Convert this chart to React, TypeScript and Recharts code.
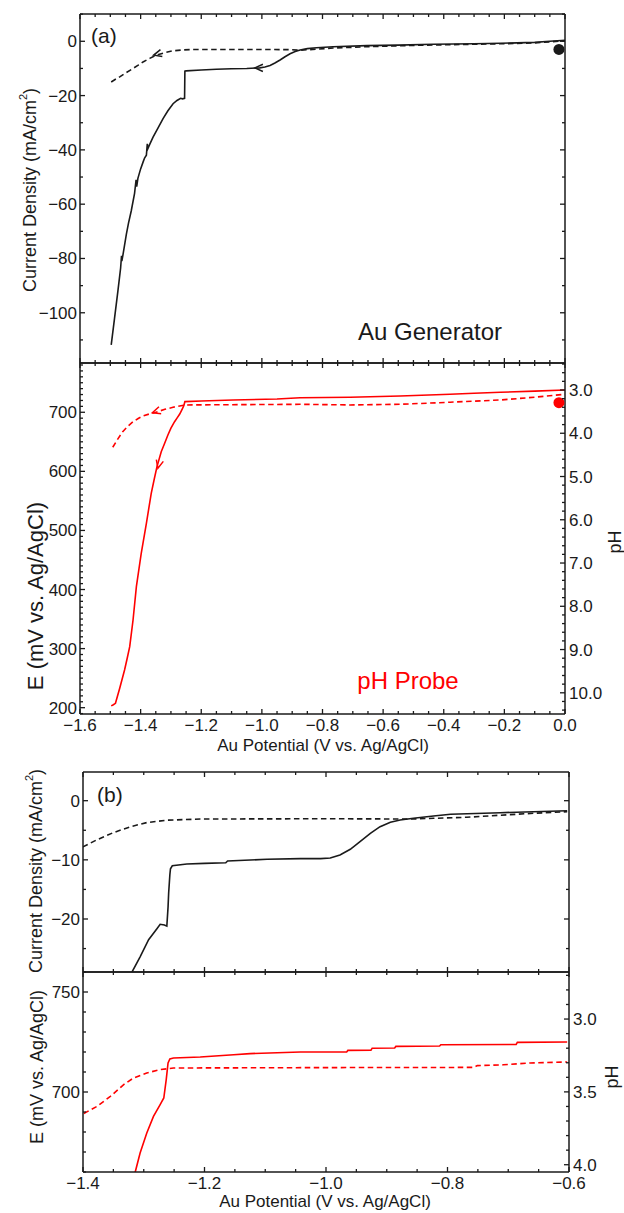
import React from 'react';
import { ComposedChart, Line, Scatter, XAxis, YAxis } from 'recharts';

const FONT = '"Liberation Sans", Arial, Helvetica, sans-serif';
const INK = '#1a1a1a';
const RED = '#ff0000';
const AXIS_LINE = { stroke: INK, strokeWidth: 1.5 };

// ---------------- data (V vs. Ag/AgCl, value) ----------------
// (a) Au generator current density, mA/cm2
const genForwardA: [number, number][] = [
  [0, 0.4], [-0.05, 0.0], [-0.1, -0.4], [-0.213, -0.75], [-0.3, -0.9], [-0.435, -1.1], [-0.55, -1.4],
  [-0.654, -1.6], [-0.765, -2.0], [-0.82, -2.4], [-0.85, -2.7], [-0.874, -3.2], [-0.89, -3.8],
  [-0.907, -4.6], [-0.925, -5.8], [-0.94, -6.9], [-0.957, -8.0], [-0.973, -8.9], [-0.99, -9.5],
  [-1.007, -9.8], [-1.05, -10.0], [-1.1, -10.1], [-1.15, -10.3], [-1.2, -10.6], [-1.25, -10.9],
  [-1.254, -11.0], [-1.255, -21.0], [-1.262, -21.2], [-1.268, -21.0], [-1.28, -21.8], [-1.293, -23.0],
  [-1.31, -25.6], [-1.326, -28.5], [-1.342, -31.8], [-1.359, -35.3], [-1.37, -38.0], [-1.376, -39.5],
  [-1.378, -37.8], [-1.381, -42.0], [-1.387, -43.0], [-1.392, -44.5], [-1.4, -47.0], [-1.409, -50.5],
  [-1.413, -53.5], [-1.415, -51.0], [-1.42, -56.0], [-1.431, -62.5], [-1.44, -67.0], [-1.447, -71.0],
  [-1.458, -78.5], [-1.462, -81.0], [-1.463, -79.0], [-1.466, -83.5], [-1.475, -92.0], [-1.486, -102.0],
  [-1.497, -111.8],
];
const genReverseA: [number, number][] = [
  [-1.497, -15.0], [-1.483, -14.0], [-1.469, -13.1], [-1.447, -11.5], [-1.425, -10.0], [-1.408, -8.8],
  [-1.392, -7.6], [-1.37, -6.3], [-1.348, -5.1], [-1.32, -4.2], [-1.293, -3.5], [-1.26, -3.2],
  [-1.227, -3.0], [-1.1, -3.0], [-1.0, -3.0], [-0.9, -3.1], [-0.874, -3.3], [-0.82, -2.9],
  [-0.765, -2.5], [-0.654, -2.0], [-0.5, -1.5], [-0.3, -1.1], [-0.2, -0.9], [-0.1, -0.6], [0, 0.2],
];
const genRestA: [number, number][] = [[-0.02, -3.0]];
const genArrowsA: [number, number, number][] = [[-1.023, -9.8, 180], [-1.357, -5.1, 165]];

// (a) pH probe potential, mV
const probeForwardA: [number, number][] = [
  [0, 737.7], [-0.1, 735.8], [-0.213, 733.9], [-0.3, 732.3], [-0.379, 730.5], [-0.544, 727.6],
  [-0.709, 725.4], [-0.874, 724.7], [-0.95, 722.5], [-1.095, 720.8], [-1.2, 719.0], [-1.254, 718.0],
  [-1.257, 712.0], [-1.262, 706.0], [-1.271, 697.0], [-1.28, 690.0], [-1.288, 684.0], [-1.3, 673.0],
  [-1.31, 661.6], [-1.322, 646.0], [-1.332, 633.3], [-1.346, 608.0], [-1.355, 587.0], [-1.365, 562.9],
  [-1.381, 512.0], [-1.398, 461.3], [-1.414, 404.8], [-1.425, 348.4], [-1.436, 303.3], [-1.445, 282.0],
  [-1.453, 263.8], [-1.469, 232.8], [-1.483, 207.4], [-1.49, 205.0], [-1.497, 203.0],
];
const probeReverseA: [number, number][] = [
  [-1.492, 640.8], [-1.475, 655.0], [-1.459, 667.2], [-1.442, 676.5], [-1.425, 684.0], [-1.408, 689.5],
  [-1.392, 693.7], [-1.372, 697.0], [-1.354, 699.3], [-1.32, 705.0], [-1.293, 708.5], [-1.254, 712.4],
  [-1.1, 712.8], [-0.874, 713.5], [-0.709, 712.4], [-0.544, 713.5], [-0.379, 717.0], [-0.213, 720.8],
  [-0.1, 725.5], [0, 730.5],
];
const probeRestA: [number, number][] = [[-0.02, 716.3]];
const probeArrowsA: [number, number, number][] = [[-1.361, 699.3, 162], [-1.343, 605.2, 104]];

// (b) zoom: generator current density
const genForwardB: [number, number][] = [
  [-1.325, -30.5], [-1.319, -28.9], [-1.306, -26.4], [-1.292, -23.5], [-1.278, -21.6], [-1.273, -20.9],
  [-1.266, -21.0], [-1.262, -21.2], [-1.26, -18.0], [-1.259, -15.6], [-1.257, -12.5], [-1.256, -11.5],
  [-1.253, -11.0], [-1.229, -10.7], [-1.2, -10.6], [-1.165, -10.5], [-1.162, -10.2], [-1.097, -9.9],
  [-1.042, -9.8], [-1.009, -9.8], [-0.993, -9.68], [-0.977, -9.17], [-0.96, -8.21], [-0.944, -6.92],
  [-0.927, -5.51], [-0.911, -4.39], [-0.894, -3.65], [-0.878, -3.26], [-0.856, -2.98], [-0.823, -2.58],
  [-0.795, -2.3], [-0.713, -2.03], [-0.603, -1.69],
];
const genReverseB: [number, number][] = [
  [-1.425, -9.5], [-1.4, -7.8], [-1.377, -6.6], [-1.35, -5.4], [-1.322, -4.4], [-1.295, -3.7],
  [-1.262, -3.3], [-1.207, -3.1], [-1.0, -3.05], [-0.861, -3.1], [-0.823, -2.98], [-0.768, -2.8],
  [-0.713, -2.46], [-0.658, -2.12], [-0.603, -1.86],
];

// (b) zoom: pH probe potential
const probeForwardB: [number, number][] = [
  [-1.318, 652], [-1.314, 660], [-1.306, 669.5], [-1.295, 679.5], [-1.284, 687.8], [-1.273, 693.7],
  [-1.267, 697], [-1.263, 706.2], [-1.26, 714.5], [-1.257, 716.5], [-1.251, 717], [-1.207, 717.5],
  [-1.152, 718.6], [-1.125, 719.2], [-1.042, 720.0], [-0.966, 720.0], [-0.964, 720.8], [-0.926, 720.9],
  [-0.924, 721.9], [-0.887, 722.0], [-0.885, 722.8], [-0.813, 723.0], [-0.811, 723.6], [-0.687, 723.8],
  [-0.685, 724.8], [-0.603, 725.0],
];
const probeReverseB: [number, number][] = [
  [-1.42, 683], [-1.399, 689.2], [-1.377, 692.8], [-1.355, 697.8], [-1.333, 703.7], [-1.317, 707],
  [-1.295, 709.5], [-1.273, 711.2], [-1.251, 712], [-1.0, 712.2], [-0.757, 712.3], [-0.751, 713.2],
  [-0.708, 713.6], [-0.664, 714.5], [-0.603, 715],
];

// ---------------- ticks ----------------
const range = (a: number, b: number, step: number) => {
  const n = Math.round((b - a) / step);
  const out: number[] = [];
  for (let i = 0; i <= n; i++) out.push(Math.round((a + i * step) * 10000) / 10000);
  return out;
};
const potentialMajorA = [-1.6, -1.4, -1.2, -1.0, -0.8, -0.6, -0.4, -0.2, 0.0];
const potentialTicksA = range(-1.6, 0, 0.05);
const currentMajorA = [-100, -80, -60, -40, -20, 0];
const currentTicksA = range(-110, 10, 10);
const emfMajorA = [200, 300, 400, 500, 600, 700];
const emfTicksA = range(190, 780, 10);
const phMajorA = [3, 4, 5, 6, 7, 8, 9, 10];
const phTicksA = range(2.4, 10.4, 0.2);

const potentialMajorB = [-1.4, -1.2, -1.0, -0.8, -0.6];
const potentialTicksB = range(-1.4, -0.6, 0.05);
const currentMajorB = [-20, -10, 0];
const currentTicksB = range(-25, 0, 5);
const emfMajorB = [700, 750];
const emfTicksB = range(660, 760, 10);
const phMajorB = [3.0, 3.5, 4.0];
const phTicksB = range(2.7, 4.0, 0.1);

// ---------------- helpers ----------------
const pts = (a: [number, number][]) => a.map(([x, y]) => ({ x, y }));
const arrowPts = (a: [number, number, number][]) => a.map(([x, y, dir]) => ({ x, y, dir }));
const minus = (s: string) => s.replace('-', '\u2212');
const fmtInt = (v: number) => minus(String(Math.round(v)));
const fmt1 = (v: number) => minus(Math.abs(v) < 1e-9 ? '0.0' : v.toFixed(1));

type Side = 'bottom' | 'top' | 'left' | 'right';
function makeTick(side: Side, majors: number[], fmt?: (v: number) => string) {
  const TickMark = (props: any) => {
    const { x, y, payload } = props;
    const v = Number(payload?.value);
    const isMajor = majors.some((m) => Math.abs(m - v) < 1e-6);
    const len = isMajor ? 5 : 3;
    const dx = side === 'left' ? len : side === 'right' ? -len : 0;
    const dy = side === 'bottom' ? -len : side === 'top' ? len : 0;
    let label: React.ReactNode = null;
    if (fmt && isMajor) {
      const common = { fontFamily: FONT, fontSize: 17, fill: INK };
      if (side === 'bottom')
        label = <text x={x} y={y + 17} textAnchor="middle" {...common}>{fmt(v)}</text>;
      else if (side === 'left')
        label = <text x={x - 3} y={y + 6} textAnchor="end" {...common}>{fmt(v)}</text>;
      else if (side === 'right')
        label = <text x={x + 4} y={y + 6} textAnchor="start" {...common}>{fmt(v)}</text>;
    }
    return (
      <g>
        <line x1={x} y1={y} x2={x + dx} y2={y + dy} stroke={INK} strokeWidth={1.3} />
        {label}
      </g>
    );
  };
  return TickMark;
}

type AxisSpec = {
  domain: [number, number];
  ticks: number[];
  majors: number[];
  fmt?: (v: number) => string;
  reversed?: boolean;
};

function frameAxes(x: AxisSpec, left: AxisSpec, right: AxisSpec, leftW: number, rightW: number, bottomH: number) {
  const common = {
    type: 'number' as const,
    allowDataOverflow: true,
    interval: 0 as const,
    tickLine: false,
    tickSize: 0,
    tickMargin: 0,
    axisLine: AXIS_LINE,
  };
  return [
    <XAxis key="xb" xAxisId="b" orientation="bottom" dataKey="x" domain={x.domain} ticks={x.ticks}
      height={bottomH} tick={makeTick('bottom', x.majors, x.fmt)} {...common} />,
    <XAxis key="xt" xAxisId="t" orientation="top" dataKey="x" domain={x.domain} ticks={x.ticks}
      height={10} tick={makeTick('top', x.majors)} {...common} />,
    <YAxis key="yl" yAxisId="l" orientation="left" dataKey="y" domain={left.domain} ticks={left.ticks}
      width={leftW} reversed={!!left.reversed} tick={makeTick('left', left.majors, left.fmt)} {...common} />,
    <YAxis key="yr" yAxisId="r" orientation="right" dataKey="y" domain={right.domain} ticks={right.ticks}
      width={rightW} reversed={!!right.reversed} tick={makeTick('right', right.majors, right.fmt)} {...common} />,
  ];
}

const Dot = (color: string) => (p: any) => <circle cx={p.cx} cy={p.cy} r={5.5} fill={color} />;
const Chevron = (color: string) => (p: any) => {
  const { cx, cy, payload } = p;
  const t = (payload.dir * Math.PI) / 180;
  const L = 8;
  const w = 3.6;
  const bx = cx - L * Math.cos(t);
  const by = cy - L * Math.sin(t);
  const px = -Math.sin(t) * w;
  const py = Math.cos(t) * w;
  return (
    <polyline points={`${bx + px},${by + py} ${cx},${cy} ${bx - px},${by - py}`}
      fill="none" stroke={color} strokeWidth={1.5} strokeLinejoin="miter" />
  );
};

const RotTitle = ({ x, y, angle, children, fill, size, ...rest }: any) => (
  <text x={x} y={y} transform={`rotate(${angle}, ${x}, ${y})`} textAnchor="middle"
    dominantBaseline="central" fontFamily={FONT} fontSize={size || 18} fill={fill || INK} {...rest}>
    {children}
  </text>
);
const CurrentTitle = ({ x, y }: { x: number; y: number }) => (
  <RotTitle x={x} y={y} angle={-90}>
    <tspan>Current Density (mA/cm</tspan>
    <tspan dy={-7} fontSize={11}>2</tspan>
    <tspan dy={7}>)</tspan>
  </RotTitle>
);

const LW = 1.6;
const DASH = '5.5 3.5';
const noAnim = { isAnimationActive: false } as const;

export default function App() {
  const m = { top: 0, right: 0, bottom: 0, left: 0 };
  const xA: AxisSpec = { domain: [-1.6, 0], ticks: potentialTicksA, majors: potentialMajorA };
  const xAl: AxisSpec = { ...xA, fmt: fmt1 };
  const jA: AxisSpec = { domain: [-118.5, 10.05], ticks: currentTicksA, majors: currentMajorA, fmt: fmtInt };
  const jAr: AxisSpec = { ...jA, fmt: undefined };
  const eA: AxisSpec = { domain: [189.3, 783.4], ticks: emfTicksA, majors: emfMajorA, fmt: fmtInt };
  const phA: AxisSpec = { domain: [2.376, 10.49], ticks: phTicksA, majors: phMajorA, fmt: fmt1, reversed: true };

  const xB: AxisSpec = { domain: [-1.4, -0.6], ticks: potentialTicksB, majors: potentialMajorB };
  const xBl: AxisSpec = { ...xB, fmt: fmt1 };
  const jB: AxisSpec = { domain: [-28.96, 4.85], ticks: currentTicksB, majors: currentMajorB, fmt: fmtInt };
  const jBr: AxisSpec = { ...jB, fmt: undefined };
  const eB: AxisSpec = { domain: [660, 760], ticks: emfTicksB, majors: emfMajorB, fmt: fmtInt };
  const phB: AxisSpec = { domain: [2.677, 4.05], ticks: phTicksB, majors: phMajorB, fmt: fmt1, reversed: true };

  return (
    <div style={{ position: 'absolute', left: 0, top: 0, width: 624, height: 1213, background: '#fff' }}>
      {/* (a) top: generator current */}
      <div style={{ position: 'absolute', left: 0, top: 4 }}>
        <ComposedChart width={624} height={369} margin={m}>
          {frameAxes(xA, jA, jAr, 80, 59, 10)}
          <Line xAxisId="b" yAxisId="l" data={pts(genReverseA)} dataKey="y" type="linear" stroke={INK}
            strokeWidth={LW} strokeDasharray={DASH} dot={false} activeDot={false} {...noAnim} />
          <Line xAxisId="b" yAxisId="l" data={pts(genForwardA)} dataKey="y" type="linear" stroke={INK}
            strokeWidth={LW} dot={false} activeDot={false} {...noAnim} />
          <Scatter xAxisId="b" yAxisId="l" data={pts(genRestA)} dataKey="y" shape={Dot(INK)} {...noAnim} />
          <Scatter xAxisId="b" yAxisId="l" data={arrowPts(genArrowsA)} dataKey="y" shape={Chevron(INK)} {...noAnim} />
          <text x={91} y={39} fontFamily={FONT} fontSize={21} fill={INK}>(a)</text>
          <text x={430} y={336} textAnchor="middle" fontFamily={FONT} fontSize={24} fill={INK}>Au Generator</text>
          <CurrentTitle x={30} y={186} />
        </ComposedChart>
      </div>

      {/* (a) bottom: pH probe */}
      <div style={{ position: 'absolute', left: 0, top: 353 }}>
        <ComposedChart width={624} height={411} margin={m}>
          {frameAxes(xAl, eA, phA, 80, 59, 50)}
          <Line xAxisId="b" yAxisId="l" data={pts(probeReverseA)} dataKey="y" type="linear" stroke={RED}
            strokeWidth={LW} strokeDasharray={DASH} dot={false} activeDot={false} {...noAnim} />
          <Line xAxisId="b" yAxisId="l" data={pts(probeForwardA)} dataKey="y" type="linear" stroke={RED}
            strokeWidth={LW} dot={false} activeDot={false} {...noAnim} />
          <Scatter xAxisId="b" yAxisId="l" data={pts(probeRestA)} dataKey="y" shape={Dot(RED)} {...noAnim} />
          <Scatter xAxisId="b" yAxisId="l" data={arrowPts(probeArrowsA)} dataKey="y" shape={Chevron(RED)} {...noAnim} />
          <text x={408} y={336} textAnchor="middle" fontFamily={FONT} fontSize={24} fill={RED}>pH Probe</text>
          <RotTitle x={35} y={243} angle={-90} size={22}>E (mV vs. Ag/AgCl)</RotTitle>
          <RotTitle x={615} y={189} angle={-90}>pH</RotTitle>
          <text x={323} y={398} textAnchor="middle" fontFamily={FONT} fontSize={17} fill={INK}>
            Au Potential (V vs. Ag/AgCl)
          </text>
        </ComposedChart>
      </div>

      {/* (b) top: generator current, zoom */}
      <div style={{ position: 'absolute', left: 0, top: 762 }}>
        <ComposedChart width={624} height={220} margin={m}>
          {frameAxes(xB, jB, jBr, 83, 55, 10)}
          <Line xAxisId="b" yAxisId="l" data={pts(genReverseB)} dataKey="y" type="linear" stroke={INK}
            strokeWidth={LW} strokeDasharray={DASH} dot={false} activeDot={false} {...noAnim} />
          <Line xAxisId="b" yAxisId="l" data={pts(genForwardB)} dataKey="y" type="linear" stroke={INK}
            strokeWidth={LW} dot={false} activeDot={false} {...noAnim} />
          <text x={97} y={40} fontFamily={FONT} fontSize={21} fill={INK}>(b)</text>
          <CurrentTitle x={36} y={109} />
        </ComposedChart>
      </div>

      {/* (b) bottom: pH probe, zoom */}
      <div style={{ position: 'absolute', left: 0, top: 962 }}>
        <ComposedChart width={624} height={251} margin={m}>
          {frameAxes(xBl, eB, phB, 83, 55, 41)}
          <Line xAxisId="b" yAxisId="l" data={pts(probeReverseB)} dataKey="y" type="linear" stroke={RED}
            strokeWidth={LW} strokeDasharray={DASH} dot={false} activeDot={false} {...noAnim} />
          <Line xAxisId="b" yAxisId="l" data={pts(probeForwardB)} dataKey="y" type="linear" stroke={RED}
            strokeWidth={LW} dot={false} activeDot={false} {...noAnim} />
          <RotTitle x={37} y={105} angle={-90}>E (mV vs. Ag/AgCl)</RotTitle>
          <RotTitle x={612} y={115} angle={-90}>pH</RotTitle>
          <text x={325} y={245} textAnchor="middle" fontFamily={FONT} fontSize={17} fill={INK}>
            Au Potential (V vs. Ag/AgCl)
          </text>
        </ComposedChart>
      </div>
    </div>
  );
}
